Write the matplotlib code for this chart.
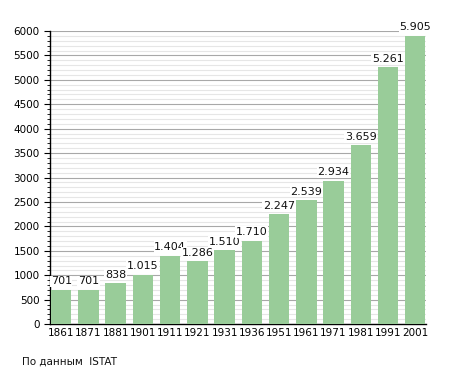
import numpy as np
import matplotlib.pyplot as plt
from matplotlib.ticker import MultipleLocator

anni = ['1861', '1871', '1881', '1901', '1911', '1921', '1931', '1936',
        '1951', '1961', '1971', '1981', '1991', '2001']
abitanti = [701, 701, 838, 1015, 1404, 1286, 1510, 1710,
            2247, 2539, 2934, 3659, 5261, 5905]

def fmt(v):
    return f'{v:,}'.replace(',', '.')

fig = plt.figure(figsize=(4.55, 3.73), dpi=100)
ax = fig.add_axes([0.110, 0.131, 0.826, 0.786])

x = np.arange(len(anni))
ax.bar(x, abitanti, width=0.75, color='#99cc99', zorder=3)
for xi, v in zip(x, abitanti):
    ax.text(xi, v + 70, fmt(v), ha='center', va='bottom', fontsize=8,
            color='#111111', zorder=4,
            bbox=dict(facecolor='white', edgecolor='none', pad=0.5))

ax.set_xlim(-0.41, 13.39)
ax.set_ylim(0, 6000)
ax.yaxis.set_major_locator(MultipleLocator(500))
ax.yaxis.set_minor_locator(MultipleLocator(100))
ax.grid(axis='y', which='major', color='#a8a8a8', linewidth=0.8, zorder=1)
ax.grid(axis='y', which='minor', color='#e6e6e6', linewidth=0.8, zorder=0)

ax.set_xticks(x)
ax.set_xticklabels(anni)
ax.tick_params(axis='x', length=0, labelsize=7.5, pad=3)
ax.tick_params(axis='y', which='major', length=4, width=0.8, labelsize=7.5)
ax.tick_params(axis='y', which='minor', length=2, width=0.6)

for s in ['top', 'right']:
    ax.spines[s].set_visible(False)
ax.spines['left'].set_linewidth(1)
ax.spines['bottom'].set_linewidth(1)

fig.text(22 / 455, 1 - 362 / 373, 'По данным  ISTAT', fontsize=7.5,
         va='center', ha='left', color='#111111')

fig.savefig('out.png', dpi=100)
